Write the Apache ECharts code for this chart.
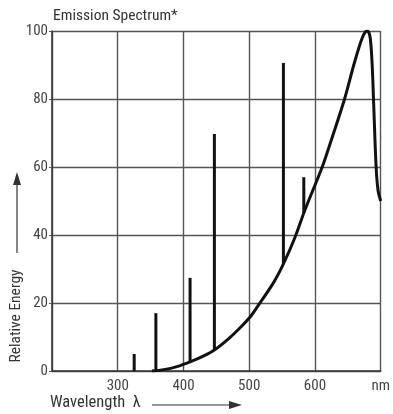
<!DOCTYPE html>
<html><head><meta charset="utf-8">
<script src="https://cdn.jsdelivr.net/npm/echarts@6/dist/echarts.min.js"></script>
<style>html,body{margin:0;padding:0;background:#fff}#c{width:393px;height:414px}</style>
</head><body><div id="c"></div>
<script>
// Data
const curveNm    = [352, 370, 390, 410, 430, 447, 468, 485,  501,  512,  537, 552,  570,  584, 611, 625, 645, 659, 670, 676,  680, 684, 687, 689, 693, 696, 700];
const curveValue = [0,   0.4, 1.3, 2.7, 4.4, 6.2, 9.4, 12.5, 15.8, 18.8, 26,  31.5, 39.5, 47,  60,  68,  80,  90,  97,  99.6, 100, 98,  90,  80,  60,  53,  50];
const spikeNm    = [325, 358, 410, 447, 552, 583];
const spikeBase  = [0,   0,   2.7, 6.2, 31.5, 46.5];
const spikeTop   = [5,   17,  27.4, 69.7, 90.6, 57];
const xTicks = [200, 300, 400, 500, 600, 700];
const xTickLabels = ['', '300', '400', '500', '600', 'nm'];
const yTicks = [0, 20, 40, 60, 80, 100];

const FONT = '"Liberation Sans Narrow", "Roboto Condensed", "Liberation Sans", sans-serif';
const chart = echarts.init(document.getElementById('c'), null, {renderer: 'canvas'});
const curveData = curveNm.map((x, i) => [x, curveValue[i]]);
const spikeData = spikeNm.map((x, i) => [x, spikeBase[i], spikeTop[i]]);

chart.setOption({
  animation: false,
  backgroundColor: '#fff',
  grid: {left: 52, right: 2, top: 31, bottom: 43, containLabel: false},
  xAxis: {
    type: 'value', min: xTicks[0], max: xTicks[xTicks.length - 1], interval: 100,
    axisLine: {show: true, lineStyle: {color: '#333', width: 1.5}},
    axisTick: {show: false},
    splitLine: {show: true, lineStyle: {color: '#555', width: 1.4}},
    axisLabel: {
      margin: 8, color: '#444', fontSize: 15, fontFamily: FONT,
      formatter: v => xTickLabels[xTicks.indexOf(v)] ?? ''
    }
  },
  yAxis: {
    type: 'value', min: yTicks[0], max: yTicks[yTicks.length - 1], interval: 20,
    axisLine: {show: true, lineStyle: {color: '#333', width: 1.5}},
    axisTick: {show: true, length: 3, lineStyle: {color: '#555'}},
    splitLine: {show: true, lineStyle: {color: '#555', width: 1.4}},
    axisLabel: {margin: 4, color: '#444', fontSize: 15, fontFamily: FONT}
  },
  series: [
    {
      type: 'line', data: curveData, smooth: 0.3, symbol: 'none',
      lineStyle: {color: '#111', width: 3}, z: 5
    },
    {
      type: 'custom', data: spikeData, z: 4,
      renderItem: (params, api) => {
        const p0 = api.coord([api.value(0), api.value(1)]);
        const p1 = api.coord([api.value(0), api.value(2)]);
        return {type: 'line', shape: {x1: p0[0], y1: p0[1], x2: p1[0], y2: p1[1]},
                style: {stroke: '#111', lineWidth: 3}};
      }
    }
  ],
  graphic: [
    {type: 'text', left: 53, top: 8, style: {text: 'Emission Spectrum*', font: '15.5px ' + FONT, fill: '#333'}},
    {type: 'text', left: 50, top: 394, style: {text: 'Wavelength  λ', font: '16.5px ' + FONT, fill: '#333'}},
    {type: 'line', shape: {x1: 152, y1: 405, x2: 232, y2: 405}, style: {stroke: '#333', lineWidth: 1.2}},
    {type: 'polygon', shape: {points: [[242, 405], [229, 401], [229, 409]]}, style: {fill: '#333'}},
    {type: 'text', x: 16, y: 316, rotation: Math.PI / 2,
     style: {text: 'Relative Energy', font: '15.5px ' + FONT, fill: '#333', align: 'center', verticalAlign: 'middle'}},
    {type: 'line', shape: {x1: 17, y1: 253, x2: 17, y2: 182}, style: {stroke: '#333', lineWidth: 1.2}},
    {type: 'polygon', shape: {points: [[17, 172], [13, 185], [21, 185]]}, style: {fill: '#333'}}
  ]
});
</script></body></html>
